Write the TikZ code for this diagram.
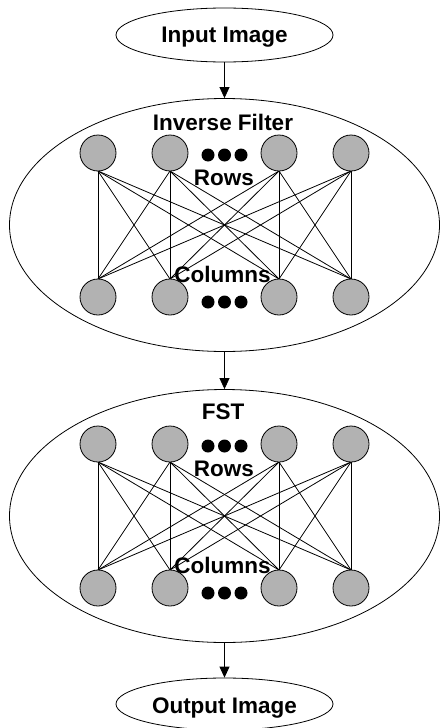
\documentclass[tikz,border=0pt]{standalone}
\usepackage{fontspec}
\setmainfont{Liberation Sans}
\usetikzlibrary{shapes.geometric,arrows.meta}
\definecolor{nodegray}{RGB}{178,178,178}
\tikzset{
  lbl/.style={font=\fontsize{22.5}{27}\selectfont\bfseries, anchor=base, inner sep=0pt},
  io/.style={draw, ellipse, line width=0.8pt, minimum width=217pt, minimum height=54pt, inner sep=0pt},
  layerbox/.style={draw, ellipse, line width=0.8pt, minimum width=430pt, minimum height=253pt, inner sep=0pt},
  neuron/.style={draw, circle, fill=nodegray, line width=0.8pt, minimum size=36pt, inner sep=0pt},
  dotnode/.style={circle, fill=black, minimum size=13pt, inner sep=0pt},
  link/.style={line width=0.8pt},
  flow/.style={line width=0.8pt, -{Triangle[length=11pt,width=10pt]}}
}
\begin{document}
\begin{tikzpicture}[x=1pt,y=-1pt]
\useasboundingbox (0,0) rectangle (439,728);
% input / output
\node[io] (in) at (224.5,35) {};
\node[lbl] (intxt) at (224.5,42) {Input Image};
\node[io, minimum height=52pt] (out) at (224.5,704) {};
\node[lbl] (outtxt) at (224.5,713) {Output Image};
% layers
\foreach \L/\dy/\title/\tb in {1/0/Inverse Filter/130, 2/291/FST/419}{
  \node[layerbox] (E\L) at (224.5,225+\dy) {};
  \node[lbl] (T\L) at (223,\tb) {\title};
  \foreach \i/\x in {1/98,2/170,3/279,4/351}{
    \coordinate (t\L\i) at (\x,153+\dy);
    \coordinate (b\L\i) at (\x,297+\dy);
  }
  \foreach \i in {1,...,4}{
    \foreach \j in {1,...,4}{
      \draw[link] ([yshift=-18pt]t\L\i) -- ([yshift=18pt]b\L\j);
    }
  }
  \foreach \i in {1,...,4}{
    \node[neuron] (nt\L\i) at (t\L\i) {};
    \node[neuron] (nb\L\i) at (b\L\i) {};
  }
  \foreach \k/\x in {1/208,2/224.5,3/241}{
    \node[dotnode] (dt\L\k) at (\x,155+\dy) {};
    \node[dotnode] (db\L\k) at (\x,302+\dy) {};
  }
  \node[lbl] (R\L) at (224,185+\dy) {Rows};
  \node[lbl] (C\L) at (222.5,282+\dy) {Columns};
}
\draw[flow] (in.south) -- (E1.north);
\draw[flow] (E1.south) -- (E2.north);
\draw[flow] (E2.south) -- (out.north);
\end{tikzpicture}
\end{document}
